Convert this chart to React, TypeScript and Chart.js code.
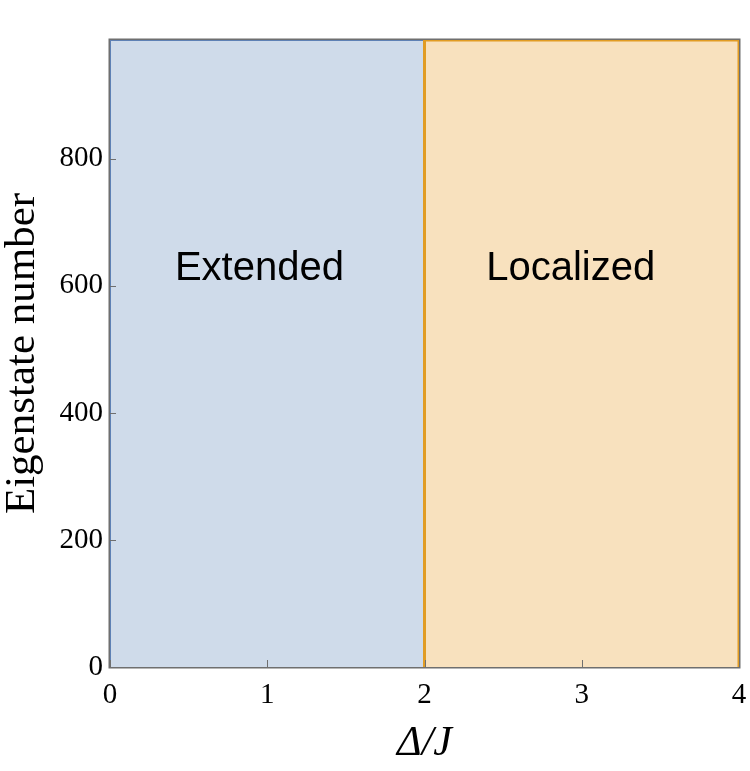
import React, { useEffect, useRef } from "react";
import { Chart, registerables } from "chart.js";

Chart.register(...registerables);

// ---- data ----
const eigenstateCount = 987;          // number of eigenstates (top of y axis)
const criticalDelta = 2;              // Δ/J where all states localize
const deltaMax = 4;                   // right end of Δ/J range
const xTickValues = [0, 1, 2, 3, 4];
const yTickValues = [0, 200, 400, 600, 800];
const regionLabels = ["Extended", "Localized"];
const regionLabelDelta = [0.95, 2.93]; // Δ/J centre of each label
const regionLabelState = 609;          // eigenstate number of label baseline

const blueLine = "#5e81b5";
const blueFill = "rgb(207,219,234)";
const orangeLine = "#e19c24";
const orangeFill = "rgb(248,225,190)";
const frameColor = "#6f6f6f";

const extendedRegion = [
  { x: 0, y: 0 },
  { x: 0, y: eigenstateCount },
  { x: criticalDelta, y: eigenstateCount },
  { x: criticalDelta, y: 0 },
];
const localizedRegion = [
  { x: criticalDelta, y: 0 },
  { x: criticalDelta, y: eigenstateCount },
  { x: deltaMax, y: eigenstateCount },
  { x: deltaMax, y: 0 },
];

const decorPlugin = {
  id: "decor",
  afterDatasetsDraw(chart: any) {
    const { ctx, chartArea, scales } = chart;
    const xs = scales.x;
    const ys = scales.y;
    ctx.save();
    // inward tick marks
    ctx.strokeStyle = frameColor;
    ctx.lineWidth = 1;
    ctx.beginPath();
    for (const v of xTickValues) {
      const px = Math.round(xs.getPixelForValue(v)) + 0.5;
      ctx.moveTo(px, chartArea.bottom);
      ctx.lineTo(px, chartArea.bottom - 7);
    }
    for (const v of yTickValues) {
      const py = Math.round(ys.getPixelForValue(v)) + 0.5;
      ctx.moveTo(chartArea.left, py);
      ctx.lineTo(chartArea.left + 6, py);
    }
    ctx.stroke();
    // frame
    ctx.lineWidth = 1.5;
    ctx.strokeStyle = frameColor;
    ctx.strokeRect(
      chartArea.left - 0.75,
      chartArea.top - 0.75,
      chartArea.right - chartArea.left + 1.5,
      chartArea.bottom - chartArea.top + 1.5
    );
    // region labels
    ctx.fillStyle = "#000";
    ctx.font = '40px "Liberation Sans", Arial, sans-serif';
    ctx.textAlign = "center";
    ctx.textBaseline = "alphabetic";
    regionLabels.forEach((t, i) => {
      ctx.fillText(
        t,
        xs.getPixelForValue(regionLabelDelta[i]),
        ys.getPixelForValue(regionLabelState)
      );
    });
    ctx.restore();
  },
};

export default function App() {
  const ref = useRef<HTMLCanvasElement>(null);
  useEffect(() => {
    if (!ref.current) return;
    const serif = '"Liberation Serif", "Times New Roman", serif';
    const chart = new Chart(ref.current, {
      type: "scatter",
      data: {
        datasets: [
          {
            data: extendedRegion,
            showLine: true,
            fill: "origin",
            backgroundColor: blueFill,
            borderColor: blueLine,
            borderWidth: 2,
            pointRadius: 0,
            tension: 0,
            order: 2,
          },
          {
            data: localizedRegion,
            showLine: true,
            fill: "origin",
            backgroundColor: orangeFill,
            borderColor: orangeLine,
            borderWidth: 3,
            pointRadius: 0,
            tension: 0,
            order: 1,
          },
        ],
      },
      options: {
        animation: false,
        responsive: true,
        maintainAspectRatio: false,
        layout: { padding: { top: 40, right: 11, left: 0, bottom: 0 } },
        plugins: { legend: { display: false }, tooltip: { enabled: false } },
        scales: {
          x: {
            type: "linear",
            min: 0,
            max: deltaMax,
            grid: { display: false, drawTicks: false },
            border: { display: false },
            afterBuildTicks: (s: any) => {
              s.ticks = xTickValues.map((v) => ({ value: v }));
            },
            afterFit: (s: any) => {
              s.height = 104;
              s.paddingLeft = 0;
              s.paddingRight = 0;
            },
            ticks: {
              color: "#000",
              padding: 11,
              font: { family: serif, size: 29 },
              maxRotation: 0,
              callback: (v: any) => String(v),
            },
            title: {
              display: true,
              text: "Δ/J",
              color: "#000",
              font: { family: serif, size: 42, style: "italic", lineHeight: 1 },
              padding: { top: 0, bottom: 6 },
            },
          },
          y: {
            type: "linear",
            min: 0,
            max: eigenstateCount,
            grid: { display: false, drawTicks: false },
            border: { display: false },
            afterBuildTicks: (s: any) => {
              s.ticks = yTickValues.map((v) => ({ value: v }));
            },
            afterFit: (s: any) => {
              s.width = 110;
              s.paddingTop = 0;
              s.paddingBottom = 0;
            },
            ticks: {
              color: "#000",
              padding: 7,
              font: { family: serif, size: 29 },
              callback: (v: any) => String(v),
            },
            title: {
              display: true,
              text: "Eigenstate number",
              color: "#000",
              font: { family: serif, size: 43, lineHeight: 1 },
              padding: { top: 1, bottom: 0 },
            },
          },
        },
      },
      plugins: [decorPlugin],
    });
    return () => chart.destroy();
  }, []);
  return (
    <div style={{ position: "absolute", left: 0, top: 0, width: 750, height: 771 }}>
      <canvas ref={ref} />
    </div>
  );
}
